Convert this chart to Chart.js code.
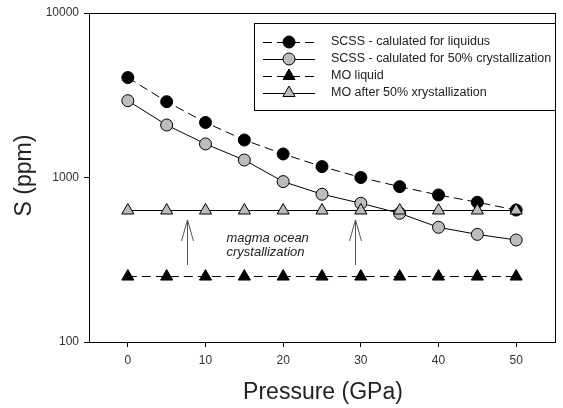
<!DOCTYPE html>
<html>
<head>
<meta charset="utf-8">
<script src="https://cdn.jsdelivr.net/npm/chart.js@4"></script>
<style>
  html, body { margin: 0; padding: 0; background: #fff; }
  #wrap { width: 563px; height: 408px; }
</style>
</head>
<body>
<div id="wrap"><canvas id="grafico"></canvas></div>
<script>
// presion (GPa)
const presion = [0, 5, 10, 15, 20, 25, 30, 35, 40, 45, 50]

// S (ppm)
const scssLiquidus = [4050, 2890, 2160, 1690, 1390, 1165, 1000, 880, 783, 707, 634]
const scss50 = [2930, 2085, 1600, 1277, 944, 791, 697, 606, 498, 451, 417]
const moLiquido = [250, 250, 250, 250, 250, 250, 250, 250, 250, 250, 250]
const mo50 = [630, 630, 630, 630, 630, 630, 630, 630, 630, 630, 630]

const etiquetas = ['SCSS - calulated for liquidus', 'SCSS - calulated for 50% crystallization', 'MO liquid', 'MO after 50% xrystallization']

const ticksX = [0, 10, 20, 30, 40, 50]
const ticksY = [100, 1000, 10000]

// flechas "magma ocean crystallization": x, desde, hasta (ppm)
const flechas = [[7.6, 294, 552], [29.3, 294, 552]]

const fuente = '"Liberation Sans", Arial, sans-serif'
const gris = '#bcbcbc'

function serie(label, data, forma, radio, relleno, guiones, orden){
    return {
        label: label,
        data: data.map((v, i) => ({x: presion[i], y: v})),
        borderColor: '#000',
        borderWidth: 1,
        borderDash: guiones,
        backgroundColor: relleno,
        pointStyle: forma,
        pointRadius: radio,
        pointBorderColor: '#000',
        pointBorderWidth: 1,
        pointBackgroundColor: relleno,
        tension: 0,
        order: orden
    }
}

/* caja, titulos, flechas y leyenda */
const extras = {
    id: 'extras',
    beforeDatasetsDraw(chart){
        const {ctx, chartArea: a, scales: {x, y}} = chart
        ctx.save()
        ctx.strokeStyle = '#555'
        ctx.lineWidth = 1
        flechas.forEach(f => {
            const px = Math.round(x.getPixelForValue(f[0])) + 0.5
            const y0 = y.getPixelForValue(f[1])
            const y1 = y.getPixelForValue(f[2])
            ctx.beginPath()
            ctx.moveTo(px, y0)
            ctx.lineTo(px, y1)
            ctx.moveTo(px - 6, y1 + 21)
            ctx.lineTo(px, y1)
            ctx.lineTo(px + 6, y1 + 21)
            ctx.stroke()
        })
        ctx.fillStyle = '#222'
        ctx.font = 'italic 13px ' + fuente
        ctx.textAlign = 'left'
        ctx.textBaseline = 'alphabetic'
        const tx = x.getPixelForValue(12.7)
        ctx.fillText('magma ocean', tx, 242)
        ctx.fillText('crystallization', tx, 256)
        ctx.restore()
    },
    afterDraw(chart){
        const {ctx, chartArea: a} = chart
        ctx.save()
        ctx.strokeStyle = '#000'
        ctx.lineWidth = 1
        ctx.strokeRect(Math.round(a.left) + 0.5, Math.round(a.top) + 0.5, Math.round(a.right - a.left), Math.round(a.bottom - a.top))

        // leyenda
        const lx = 254, ly = 23, lr = Math.round(a.right)
        ctx.fillStyle = '#fff'
        ctx.fillRect(lx, ly, lr - lx, 87)
        ctx.strokeRect(lx + 0.5, ly + 0.5, lr - lx, 87)
        const filas = [42, 59, 76, 93]
        chart.data.datasets.forEach((ds, i) => {
            const fy = filas[i]
            ctx.beginPath()
            ctx.setLineDash(ds.borderDash || [])
            ctx.moveTo(263, fy + 0.5)
            ctx.lineTo(315, fy + 0.5)
            ctx.stroke()
            ctx.setLineDash([])
            ctx.fillStyle = ds.pointBackgroundColor
            Chart.helpers.drawPoint(ctx, {pointStyle: ds.pointStyle, radius: ds.pointRadius, borderWidth: 1}, 289, fy)
            ctx.fillStyle = '#222'
            ctx.font = '12.5px ' + fuente
            ctx.textBaseline = 'middle'
            ctx.fillText(ds.label, 331, fy)
        })

        // titulos de ejes
        ctx.fillStyle = '#222'
        ctx.font = '23px ' + fuente
        ctx.textAlign = 'center'
        ctx.textBaseline = 'middle'
        ctx.fillText('Pressure (GPa)', (a.left + a.right) / 2 + 1, 393)
        ctx.translate(25, (a.top + a.bottom) / 2 - 2)
        ctx.rotate(-Math.PI / 2)
        ctx.fillText('S (ppm)', 0, 0)
        ctx.restore()
    }
}

function grafico(){
    const ctx = document.getElementById('grafico')
    new Chart(ctx, {
        type: 'line',
        data: {
            datasets: [
                serie(etiquetas[0], scssLiquidus, 'circle', 6, '#000', [9, 5], 4),
                serie(etiquetas[1], scss50, 'circle', 6, gris, [], 3),
                serie(etiquetas[2], moLiquido, 'triangle', 7, '#000', [9, 5], 2),
                serie(etiquetas[3], mo50, 'triangle', 7, gris, [], 1)
            ]
        },
        options: {
            responsive: true,
            maintainAspectRatio: false,
            animation: false,
            layout: {padding: {top: 13, right: 4, left: 0, bottom: 0}},
            plugins: {legend: {display: false}, tooltip: {enabled: false}},
            scales: {
                x: {
                    type: 'linear',
                    min: -5,
                    max: 55,
                    afterBuildTicks: s => { s.ticks = ticksX.map(v => ({value: v})) },
                    afterFit: s => { s.height = 66 },
                    grid: {drawOnChartArea: false, drawTicks: true, tickLength: 5, color: '#000'},
                    border: {display: true, color: '#000', width: 1},
                    ticks: {color: '#333', font: {family: fuente, size: 12}, padding: 6}
                },
                y: {
                    type: 'logarithmic',
                    min: 100,
                    max: 10000,
                    afterBuildTicks: s => { s.ticks = ticksY.map(v => ({value: v})) },
                    afterFit: s => { s.width = 89 },
                    grid: {drawOnChartArea: false, drawTicks: true, tickLength: 5, color: '#000'},
                    border: {display: true, color: '#000', width: 1},
                    ticks: {color: '#333', font: {family: fuente, size: 12}, padding: 5, callback: v => String(v)}
                }
            }
        },
        plugins: [extras]
    })
}

grafico()
</script>
</body>
</html>
